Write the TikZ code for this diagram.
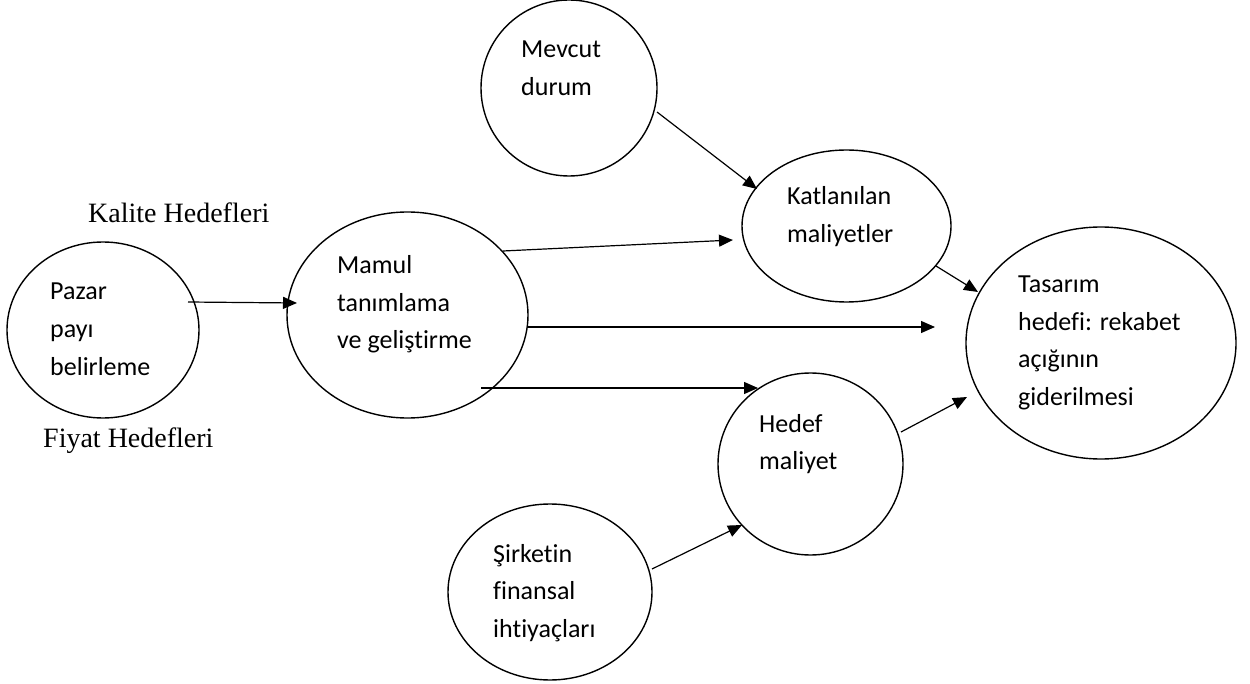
\documentclass[tikz,border=0pt]{standalone}
\usepackage{fontspec}
\setmainfont{Carlito}[Ligatures=NoCommon]
\newfontfamily\timesf{Liberation Serif}
\usetikzlibrary{shapes.geometric,arrows.meta,calc}
\tikzset{
  ell/.style={draw, line width=1.4pt, ellipse, inner sep=0pt},
  txt/.style={anchor=base west, align=left, inner sep=0pt, font=\fontsize{26}{37.5}\selectfont},
  side/.style={anchor=base west, inner sep=0pt, font=\timesf\fontsize{28}{32}\selectfont},
  arr/.style={line width=1.2pt, -{Triangle[length=14pt,width=12pt]}}
}
\begin{document}
\begin{tikzpicture}[x=1pt,y=-1pt]
\useasboundingbox (0,0) rectangle (1250,684);
% ellipses
\node[ell, minimum width=192pt, minimum height=176pt] (pazar) at (103,330) {};
\node[ell, minimum width=241pt, minimum height=206pt] (mamul) at (407.5,315) {};
\node[ell, minimum width=176pt, minimum height=176pt] (mevcut) at (569,88) {};
\node[ell, minimum width=209pt, minimum height=152pt] (katl) at (846.5,226) {};
\node[ell, minimum width=270pt, minimum height=232pt] (tasarim) at (1101,343) {};
\node[ell, minimum width=185pt, minimum height=182pt] (hedef) at (810.5,464) {};
\node[ell, minimum width=204pt, minimum height=176pt] (sirket) at (550,592) {};
% texts (anchor at baseline of last line)
\node[txt] (tpazar) at (50,375) {Pazar\\payı\\belirleme};
\node[txt] (tmamul) at (337,349) {Mamul\\tanımlama\\ve geliştirme};
\node[txt] (tmevcut) at (521,95.5) {Mevcut\\durum};
\node[txt] (tkatl) at (787,242.5) {Katlanılan\\maliyetler};
\node[txt] (ttasarim) at (1018,405.5) {Tasarım\\hedefi: rekabet\\açığının\\giderilmesi};
\node[txt] (thedef) at (759,469.5) {Hedef\\maliyet};
\node[txt] (tsirket) at (493,637) {Şirketin\\finansal\\ihtiyaçları};
\node[side] (kalite) at (88,223) {Kalite Hedefleri};
\node[side] (fiyat) at (43,447) {Fiyat Hedefleri};
% free end
\coordinate (a3end) at (935,327);
% arrows
\draw[arr] ($(pazar.center)+(85,-28)$) -- ($(mamul.center)+(-110.5,-12)$);
\draw[arr] ($(mamul.center)+(95.5,-64)$) -- ($(katl.center)+(-113.5,14)$);
\draw[arr] ($(mamul.center)+(120.5,12)$) -- (a3end);
\draw[arr] ($(mamul.center)+(73.5,73)$) -- ($(hedef.center)+(-52.5,-76)$);
\draw[arr] ($(mevcut.center)+(88,24)$) -- ($(katl.center)+(-89.5,-37)$);
\draw[arr] ($(katl.center)+(89.5,40)$) -- ($(tasarim.center)+(-123,-51)$);
\draw[arr] ($(hedef.center)+(90.5,-32)$) -- ($(tasarim.center)+(-134,54)$);
\draw[arr] ($(sirket.center)+(102,-23)$) -- ($(hedef.center)+(-68.5,61)$);
\end{tikzpicture}
\end{document}
